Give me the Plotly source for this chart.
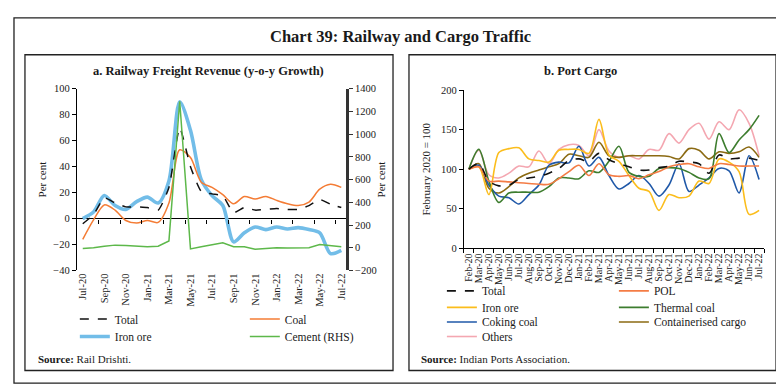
import plotly.graph_objects as go

W, H = 784, 386
def px(x): return x / W
def py(y): return 1 - y / H

# ---------------- Panel a data (monthly, Jul-20 .. Jul-22) ----------------
rail_months = ["Jul-20","Aug-20","Sep-20","Oct-20","Nov-20","Dec-20","Jan-21","Feb-21","Mar-21",
               "Apr-21","May-21","Jun-21","Jul-21","Aug-21","Sep-21","Oct-21","Nov-21","Dec-21",
               "Jan-22","Feb-22","Mar-22","Apr-22","May-22","Jun-22","Jul-22"]
rail_total = [-4, 3, 16, 12, 9, 9, 8.5, 6.5, 24, 70, 40, 21, 19, 17.5, 4.5, 8.5, 6.5, 7, 7.7, 7, 7, 10, 14.7, 11, 8.5]
rail_coal = [-16, -1, 10.5, 6.5, -1.5, -3.5, -1.5, -3, 12, 53, 47, 28, 24, 18.4, 11.4, 17, 15, 17, 14, 11.4, 10, 12.7, 22.6, 26.4, 24]
rail_iron = [0, 5, 17.7, 10, 7, 13, 16.5, 12, 29, 90, 68, 30, 17.7, 10, -18, -11, -6.5, -8.5, -6.5, -8, -7, -8.5, -11, -27, -24.5]
rail_cement = [-6, 0, 14, 23, 20, 14, 9, 14, 60, 1290, -10, 8, 28, 43, 8, 8, -14, -6, 0, -3, -3, 0, 28, 20, 8]
rail_ticklabels = rail_months[::2]

# ---------------- Panel b data (monthly, Feb-20 .. Jul-22) ----------------
port_months = ["Feb-20","Mar-20","Apr-20","May-20","Jun-20","Jul-20","Aug-20","Sep-20","Oct-20","Nov-20",
               "Dec-20","Jan-21","Feb-21","Mar-21","Apr-21","May-21","Jun-21","Jul-21","Aug-21","Sep-21",
               "Oct-21","Nov-21","Dec-21","Jan-22","Feb-22","Mar-22","Apr-22","May-22","Jun-22","Jul-22"]
port_total = [100,107,85,79,80,87,89,91,95,101,111,113,110,120,112,107,103,99,99,102,104,110,109,107,95,118,113,114,114,111]
port_pol = [100,103,85,85,84,83,82,81,81,88,97,105,92,107,93,91,92,88,93,97,103,106,107,103,101,107,106,104,104,104]
port_iron = [100,103,68,121,126,127,113,111,109,124,125,125,120,163,118,110,92,76,72,48,68,64,66,85,82,113,109,97,43,48]
port_thermal = [100,125,85,58,70,71,71,71,78,89,89,88,98,96,110,129,96,91,91,101,102,101,96,89,88,145,121,137,150,168]
port_coking = [100,105,80,66,64,56,68,80,105,109,108,129,104,115,92,75,82,92,82,66,80,107,72,80,89,101,98,70,117,87]
port_container = [100,107,76,70,78,89,95,99,103,107,119,117,115,134,117,115,117,117,117,117,116,113,126,124,113,122,120,122,128,115]
port_others = [100,124,93,89,95,104,103,123,107,125,131,130,117,150,123,115,117,113,125,124,145,133,150,158,138,160,150,175,158,117]

FONT = "Liberation Serif"
TXT = "#1a1a1a"

fig = go.Figure()
mi = list(range(len(rail_months)))

# Panel a traces
fig.add_trace(go.Scatter(x=mi, y=rail_iron, name="Iron ore", mode="lines", line=dict(color="#72bde8", width=3.6, shape="spline", smoothing=0.8),
                         xaxis="x", yaxis="y", legend="legend2", legendrank=1))
fig.add_trace(go.Scatter(x=mi, y=rail_cement, name="Cement (RHS)", mode="lines", line=dict(color="#5db84a", width=1.5),
                         xaxis="x", yaxis="y2", legend="legend2", legendrank=2))
fig.add_trace(go.Scatter(x=mi, y=rail_coal, name="Coal", mode="lines", line=dict(color="#f47c35", width=1.5, shape="spline", smoothing=0.8),
                         xaxis="x", yaxis="y", legend="legend", legendrank=2))
fig.add_trace(go.Scatter(x=mi, y=rail_total, name="Total", mode="lines", line=dict(color="#111111", width=1.5, dash="dash", shape="spline", smoothing=0.5),
                         xaxis="x", yaxis="y", legend="legend", legendrank=1))
# dummy to register zero-line tick axis
fig.add_trace(go.Scatter(x=[0], y=[0], mode="markers", marker=dict(opacity=0), showlegend=False, hoverinfo="skip", xaxis="x3", yaxis="y"))

# Panel b traces
pb = [
    ("Others", port_others, "#f4a7b1", "legend6", 1, "solid"),
    ("Containerised cargo", port_container, "#8b6a12", "legend5", 2, "solid"),
    ("Coking coal", port_coking, "#1f58a8", "legend5", 1, "solid"),
    ("Thermal coal", port_thermal, "#3d7d2e", "legend4", 2, "solid"),
    ("Iron ore", port_iron, "#fbbd1c", "legend4", 1, "solid"),
    ("POL", port_pol, "#f47c45", "legend3", 2, "solid"),
    ("Total", port_total, "#111111", "legend3", 1, "dash"),
]
for name, ys, col, lg, rk, dash in pb:
    fig.add_trace(go.Scatter(x=port_months, y=ys, name=name, mode="lines",
                             line=dict(color=col, width=1.6, dash=dash, shape="spline", smoothing=0.9),
                             xaxis="x2", yaxis="y3", legend=lg, legendrank=rk))

axfont = dict(family=FONT, size=10.5, color=TXT)
ya_dom = [py(265), py(78)]
yb_dom = [py(242.3), py(79.3)]
zero_pos = ya_dom[0] + (40 / 140) * (ya_dom[1] - ya_dom[0])

fig.update_layout(
    width=W, height=H, margin=dict(l=0, r=0, t=0, b=0),
    paper_bgcolor="white", plot_bgcolor="rgba(0,0,0,0)",
    font=dict(family=FONT, size=11, color=TXT),
    showlegend=True,
    xaxis=dict(domain=[px(68), px(338)], range=[-0.55, 24.45], tickvals=mi[::2], ticktext=rail_ticklabels,
               tickangle=-90, ticks="", showline=False, showgrid=False, zeroline=False, tickfont=axfont, anchor="y"),
    xaxis3=dict(overlaying="x", matches="x", anchor="free", position=zero_pos, side="bottom",
                tickvals=[1.5 + 2 * k for k in range(12)], ticks="outside", ticklen=4, tickcolor="black",
                showticklabels=False, showline=False, showgrid=False, zeroline=False),
    yaxis=dict(domain=ya_dom, range=[-40, 100], dtick=20, ticks="outside", ticklen=4, tickcolor="black",
               showline=True, linecolor="black", linewidth=1, showgrid=False, zeroline=True, zerolinecolor="black",
               zerolinewidth=1, tickfont=axfont, anchor="x",
               title=dict(text="Per cent", font=dict(family=FONT, size=11, color=TXT), standoff=4)),
    yaxis2=dict(overlaying="y", side="right", range=[-200, 1400], dtick=200, ticks="outside", ticklen=4,
                tickcolor="#333", showline=True, linecolor="#333", linewidth=2.5, showgrid=False, zeroline=False,
                tickfont=axfont, anchor="x", title=dict(text="Per cent", font=dict(family=FONT, size=11, color=TXT), standoff=2)),
    xaxis2=dict(domain=[px(456), px(757)], type="category", range=[-0.5, 29.5], tickangle=-90,
                tickmode="array", tickvals=port_months, ticktext=port_months,
                ticks="outside", tickson="boundaries", ticklen=4, tickcolor="black", showline=True,
                linecolor="black", showgrid=False, zeroline=False, tickfont=dict(family=FONT, size=10, color=TXT),
                anchor="y3"),
    yaxis3=dict(domain=yb_dom, range=[0, 200], dtick=50, ticks="outside", ticklen=4, tickcolor="black",
                showline=True, linecolor="black", showgrid=False, zeroline=False, tickfont=axfont, anchor="x2",
                title=dict(text="February 2020 = 100", font=dict(family=FONT, size=11, color=TXT), standoff=8)),
)

legcommon = dict(orientation="h", xanchor="left", yanchor="middle", bgcolor="rgba(0,0,0,0)",
                 font=dict(family=FONT, size=11.5, color=TXT), entrywidthmode="pixels", itemwidth=30,
                 traceorder="normal")
fig.update_layout(
    legend=dict(x=px(66), y=py(315), entrywidth=125, **legcommon),
    legend2=dict(x=px(66), y=py(333), entrywidth=125, **legcommon),
    legend3=dict(x=px(434), y=py(286), entrywidth=127, **legcommon),
    legend4=dict(x=px(434), y=py(303), entrywidth=127, **legcommon),
    legend5=dict(x=px(434), y=py(318), entrywidth=127, **legcommon),
    legend6=dict(x=px(434), y=py(333), entrywidth=127, **legcommon),
)

shapes = []
def rect(x0, y0, x1, y1, w=1.3):
    shapes.append(dict(type="rect", xref="paper", yref="paper", x0=px(x0), x1=px(x1), y0=py(y1), y1=py(y0),
                       line=dict(color="#222", width=w), fillcolor="rgba(0,0,0,0)", layer="below"))
rect(5, 5, 780, 381)
rect(16, 43, 385, 368)
rect(401, 43, 769, 368)
fig.update_layout(shapes=shapes)

ann = [
    dict(text="<b>Chart 39: Railway and Cargo Traffic</b>", x=px(392), y=py(24), font=dict(family=FONT, size=16.5, color=TXT)),
    dict(text="<b>a. Railway Freight Revenue (y-o-y Growth)</b>", x=px(200), y=py(60), font=dict(family=FONT, size=12.5, color=TXT)),
    dict(text="<b>b. Port Cargo</b>", x=px(573), y=py(60), font=dict(family=FONT, size=12.5, color=TXT)),
    dict(text="<b>Source:</b> Rail Drishti.", x=px(27), y=py(356), xanchor="left", font=dict(family=FONT, size=11, color=TXT)),
    dict(text="<b>Source:</b> Indian Ports Association.", x=px(411), y=py(356), xanchor="left", font=dict(family=FONT, size=11, color=TXT)),
]
for a in ann:
    a.setdefault("xanchor", "center")
    a.update(xref="paper", yref="paper", showarrow=False, yanchor="middle")
fig.update_layout(annotations=ann)

fig.write_html("out.html")
